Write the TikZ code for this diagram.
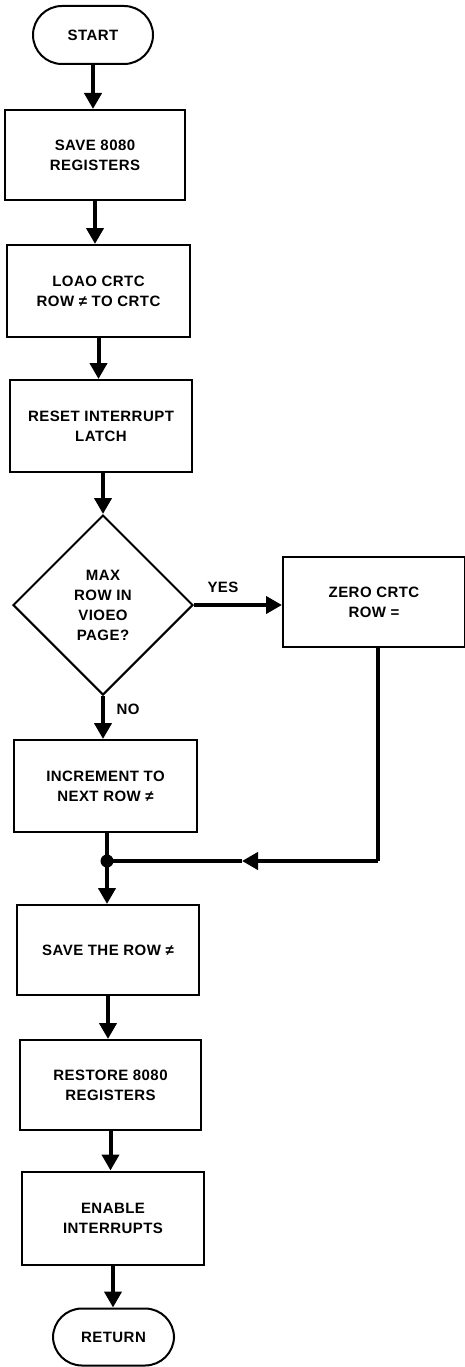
\documentclass[tikz,border=0pt]{standalone}
\usepackage{fontspec}
\setmainfont{Liberation Sans}[LetterSpace=3]
\usetikzlibrary{arrows.meta,shapes.geometric}
\tikzset{
  txt/.style={font=\fontsize{15}{20}\selectfont\bfseries, align=center, text=black},
  procbox/.style={txt, draw=black, line width=2pt, rectangle, inner sep=0pt},
  termbox/.style={txt, draw=black, line width=2pt, rectangle, rounded corners=29pt, inner sep=0pt},
  decbox/.style={txt, draw=black, line width=2pt, diamond, aspect=1, inner sep=0pt, minimum size=180pt},
  flow/.style={line width=4pt, draw=black, -{Triangle[length=16pt,width=17pt]}},
  plain/.style={line width=4pt, draw=black},
  lbl/.style={txt}
}
\begin{document}
\begin{tikzpicture}[x=1pt,y=-1pt]
\useasboundingbox (0,0) rectangle (465,1367);
\node[termbox, minimum width=120pt, minimum height=58pt] (start) at (93,35) {START};
\node[procbox, minimum width=180pt, minimum height=90pt] (save) at (95,155) {SAVE 8080\\REGISTERS};
\node[procbox, minimum width=183pt, minimum height=92pt] (load) at (98.5,291) {LOAO CRTC\\ROW ≠ TO CRTC};
\node[procbox, minimum width=182pt, minimum height=92pt] (reset) at (101,426) {RESET INTERRUPT\\LATCH};
\node[decbox] (dec) at (103,605) {MAX\\ROW IN\\VIOEO\\PAGE?};
\node[procbox, minimum width=182pt, minimum height=90pt] (zero) at (374,602) {ZERO CRTC\\ROW =};
\node[procbox, minimum width=183pt, minimum height=92pt] (inc) at (105.5,786) {INCREMENT TO\\NEXT ROW ≠};
\node[procbox, minimum width=182pt, minimum height=90pt] (saverow) at (108,950) {SAVE THE ROW ≠};
\node[procbox, minimum width=181pt, minimum height=90pt] (restore) at (110.5,1085) {RESTORE 8080\\REGISTERS};
\node[procbox, minimum width=182pt, minimum height=93pt] (enable) at (113,1218) {ENABLE\\INTERRUPTS};
\node[termbox, minimum width=121pt, minimum height=57pt] (ret) at (113.5,1337) {RETURN};
\node[lbl] (yes) at (223,587) {YES};
\node[lbl] (no) at (128,709) {NO};
\coordinate (j) at (107,861);
\coordinate (c) at (378,861);
\coordinate (m) at (242,861);
\draw[flow] (start.south) -- (start.south |- save.north);
\draw[flow] (save.south) -- (save.south |- load.north);
\draw[flow] (load.south) -- (load.south |- reset.north);
\draw[flow] (dec.north |- reset.south) -- (dec.north);
\draw[flow] (dec.east) -- (dec.east -| zero.west);
\draw[flow] (dec.south) -- (dec.south |- inc.north);
\draw[plain] (zero.south -| c) -- (c);
\draw[flow] (c) -- (m);
\draw[plain] (m) -- (j);
\draw[plain] (inc.south -| j) -- (j);
\fill[black] (j) circle (6.5pt);
\draw[flow] (j) -- (j |- saverow.north);
\draw[flow] (saverow.south) -- (saverow.south |- restore.north);
\draw[flow] (restore.south) -- (restore.south |- enable.north);
\draw[flow] (enable.south) -- (enable.south |- ret.north);
\end{tikzpicture}
\end{document}
